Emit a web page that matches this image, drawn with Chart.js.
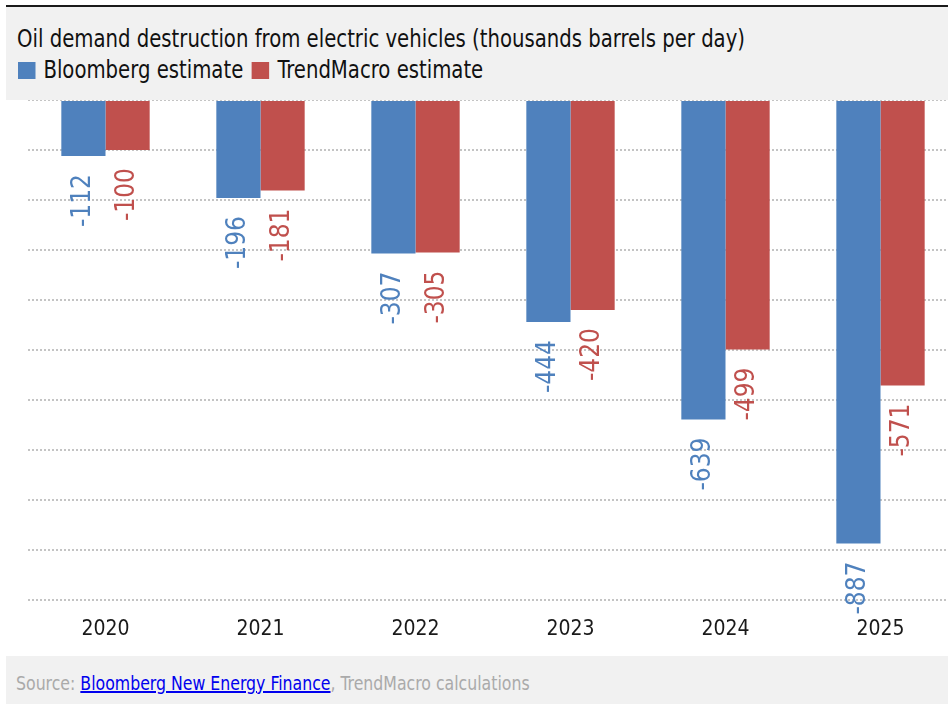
<!DOCTYPE html>
<html>
<head>
<meta charset="utf-8">
<script src="https://cdn.jsdelivr.net/npm/chart.js@4"></script>
<style>
  html, body { margin: 0; padding: 0; background: #fff; overflow: hidden; width: 948px; height: 704px; }
  body { font-family: "Liberation Sans Narrow", "DejaVu Sans Condensed", sans-serif; position: relative; }
  #header { position: absolute; left: 6px; top: 5px; width: 942px; height: 93px; background: #f1f1f1; border-top: 2px solid #1a1a1a; }
  #title { position: absolute; left: 11px; top: 19px; font-size: 25px; line-height: 25px; color: #111; white-space: nowrap; transform: scaleX(0.875); transform-origin: 0 0; }
  #legend { position: absolute; left: 12px; top: 50px; font-size: 25px; line-height: 25px; color: #111; white-space: nowrap; transform: scaleX(0.875); transform-origin: 0 0; }
  #legend span.box { display: inline-block; width: 20px; height: 17px; margin-right: 9px; vertical-align: -1px; }
  #legend span.item { margin-right: 10px; }
  #wrap { position: absolute; left: 0; top: 100px; width: 958px; height: 555px; }
  #footer { position: absolute; left: 6px; top: 656px; width: 942px; height: 48px; background: #f1f1f1; }
  #source { position: absolute; left: 10px; top: 17px; font-size: 20px; line-height: 20px; color: #aaa; white-space: nowrap; transform: scaleX(0.875); transform-origin: 0 0; }
  #source a { color: #0000ee; text-decoration: underline; }
</style>
</head>
<body>
<div id="header">
  <div id="title">Oil demand destruction from electric vehicles (thousands barrels per day)</div>
  <div id="legend"></div>
</div>
<div id="wrap"><canvas id="chart" width="958" height="555"></canvas></div>
<div id="footer">
  <div id="source">Source: <a href="#">Bloomberg New Energy Finance</a>, TrendMacro calculations</div>
</div>
<script>
// Dados do gráfico
const years = ['2020', '2021', '2022', '2023', '2024', '2025'];
const bloombergValues = [-112, -196, -307, -444, -639, -887];
const trendMacroValues = [-100, -181, -305, -420, -499, -571];
const seriesNames = ['Bloomberg estimate', 'TrendMacro estimate'];
const seriesColors = ['#4f81bd', '#c0504d'];

// Legenda em HTML
const legend = document.getElementById('legend');
seriesNames.forEach((name, i) => {
    const item = document.createElement('span');
    item.className = 'item';
    item.innerHTML = '<span class="box" style="background:' + seriesColors[i] + '"></span>' + name;
    legend.appendChild(item);
});

// Rótulos verticais abaixo de cada barra
const valueLabels = {
    id: 'valueLabels',
    afterDatasetsDraw(chart) {
        const ctx = chart.ctx;
        chart.data.datasets.forEach((ds, i) => {
            const meta = chart.getDatasetMeta(i);
            meta.data.forEach((bar, j) => {
                ctx.save();
                ctx.translate(bar.x, bar.y + 18);
                ctx.rotate(-Math.PI / 2);
                ctx.font = '26px "Liberation Sans Narrow", "DejaVu Sans Condensed", sans-serif';
                ctx.fillStyle = seriesColors[i];
                ctx.textAlign = 'right';
                ctx.textBaseline = 'middle';
                ctx.fillText(String(ds.data[j]), 0, 0);
                ctx.restore();
            });
        });
    }
};

const ctx = document.getElementById('chart').getContext('2d');
const chart = new Chart(ctx, {
    type: 'bar',
    data: {
        labels: years,
        datasets: [
            {
                label: seriesNames[0],
                data: bloombergValues,
                backgroundColor: seriesColors[0],
                categoryPercentage: 0.57,
                barPercentage: 1.0
            },
            {
                label: seriesNames[1],
                data: trendMacroValues,
                backgroundColor: seriesColors[1],
                categoryPercentage: 0.57,
                barPercentage: 1.0
            }
        ]
    },
    options: {
        responsive: false,
        animation: false,
        layout: { padding: 0 },
        plugins: {
            legend: { display: false },
            tooltip: { enabled: false }
        },
        scales: {
            x: {
                grid: { display: false, drawTicks: false },
                border: { display: false },
                ticks: {
                    color: '#1a1a1a',
                    padding: 17,
                    font: { family: '"Liberation Sans Narrow", "DejaVu Sans Condensed", sans-serif', size: 21 }
                },
                afterFit: s => { s.height = 55; }
            },
            y: {
                min: -1000,
                max: 0,
                ticks: { display: false, stepSize: 100 },
                grid: { color: '#c4c4c4', lineWidth: 2, drawTicks: false },
                border: { display: false, dash: [2, 2] },
                afterFit: s => { s.width = 28; }
            }
        }
    },
    plugins: [valueLabels]
});
</script>
</body>
</html>
